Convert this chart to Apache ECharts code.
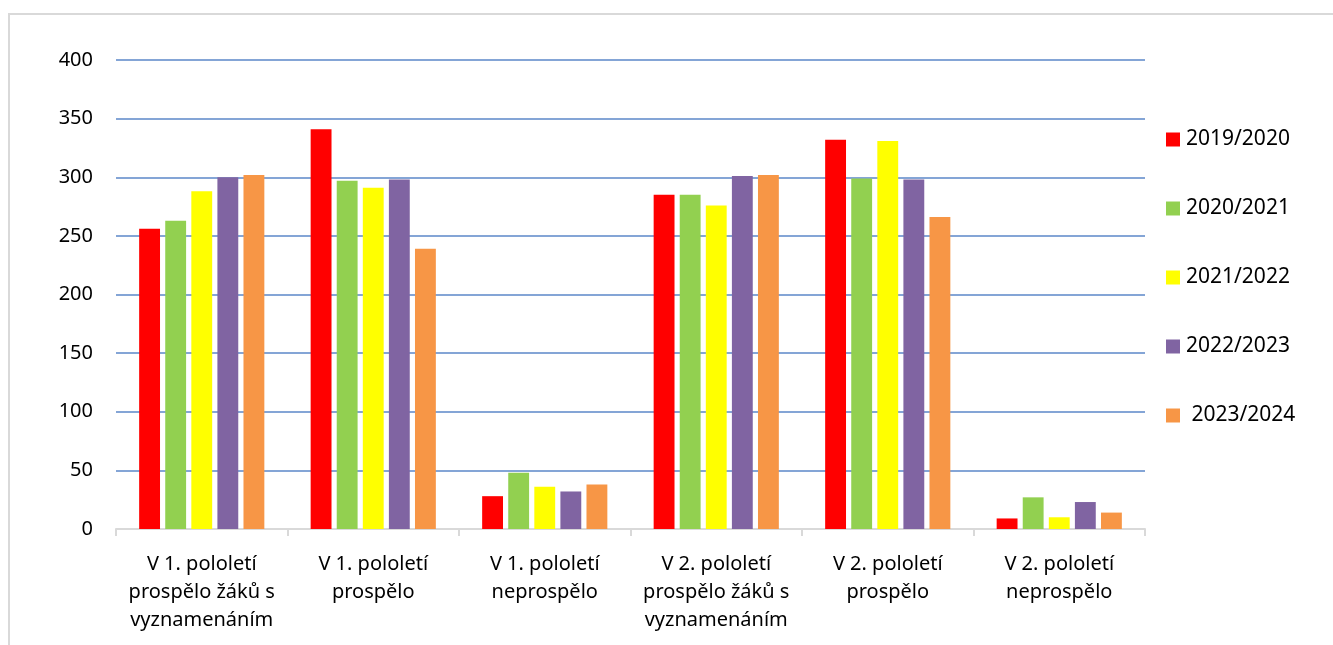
<!DOCTYPE html>
<html>
<head>
<meta charset="utf-8">
<script src="https://cdn.jsdelivr.net/npm/echarts@6/dist/echarts.min.js"></script>
<style>
html,body{margin:0;padding:0;background:#fff;}
#frame{position:absolute;left:8px;top:13px;width:1400px;height:700px;border:2px solid #d9d9d9;box-sizing:border-box;}
#chart{position:absolute;left:0;top:0;width:1333px;height:645px;}
</style>
</head>
<body>
<div id="frame"></div>
<div id="chart"></div>
<script>
const categories = [
  "V 1. pololetí\nprospělo žáků s\nvyznamenáním",
  "V 1. pololetí\nprospělo",
  "V 1. pololetí\nneprospělo",
  "V 2. pololetí\nprospělo žáků s\nvyznamenáním",
  "V 2. pololetí\nprospělo",
  "V 2. pololetí\nneprospělo"
];
const seriesNames = ["2019/2020", "2020/2021", "2021/2022", "2022/2023", "2023/2024"];
const colors = ["#ff0000", "#92d050", "#ffff00", "#8064a2", "#f79646"];
const v2019 = [256, 341, 28, 285, 332, 9];
const v2020 = [263, 297, 48, 285, 299, 27];
const v2021 = [288, 291, 36, 276, 331, 10];
const v2022 = [300, 298, 32, 301, 298, 23];
const v2023 = [302, 239, 38, 302, 266, 14];
const yTicks = { min: 0, max: 400, interval: 50 };

const values = [v2019, v2020, v2021, v2022, v2023];
const font = "Noto Sans";
const chart = echarts.init(document.getElementById('chart'));
chart.setOption({
  animation: false,
  textStyle: { fontFamily: font },
  grid: { left: 116, right: 188, top: 60, bottom: 116, containLabel: false },
  legend: {
    orient: 'vertical',
    left: 1161,
    top: 124,
    itemWidth: 14,
    itemHeight: 14,
    itemGap: 48,
    icon: 'rect',
    formatter: n => (n === '2023/2024' ? ' ' + n : n),
    textStyle: { fontFamily: font, fontSize: 21, color: '#000', padding: [0, 0, 0, 1] },
    data: seriesNames
  },
  xAxis: {
    type: 'category',
    data: categories,
    axisLine: { lineStyle: { color: '#d9d9d9', width: 2 } },
    axisTick: { show: true, length: 7, lineStyle: { color: '#d9d9d9', width: 2 } },
    axisLabel: { fontFamily: font, fontSize: 20, color: '#000', lineHeight: 28, margin: 21, interval: 0 }
  },
  yAxis: {
    type: 'value',
    min: yTicks.min, max: yTicks.max, interval: yTicks.interval,
    axisLine: { show: false },
    axisTick: { show: false },
    axisLabel: { fontFamily: font, fontSize: 20, color: '#000', margin: 23 },
    splitLine: { lineStyle: { color: '#5b87c8', width: 1.5 } }
  },
  series: seriesNames.map((n, i) => ({
    name: n,
    type: 'bar',
    data: values[i],
    barGap: '25%',
    barCategoryGap: '27%',
    itemStyle: { color: colors[i] }
  }))
});
</script>
</body>
</html>
